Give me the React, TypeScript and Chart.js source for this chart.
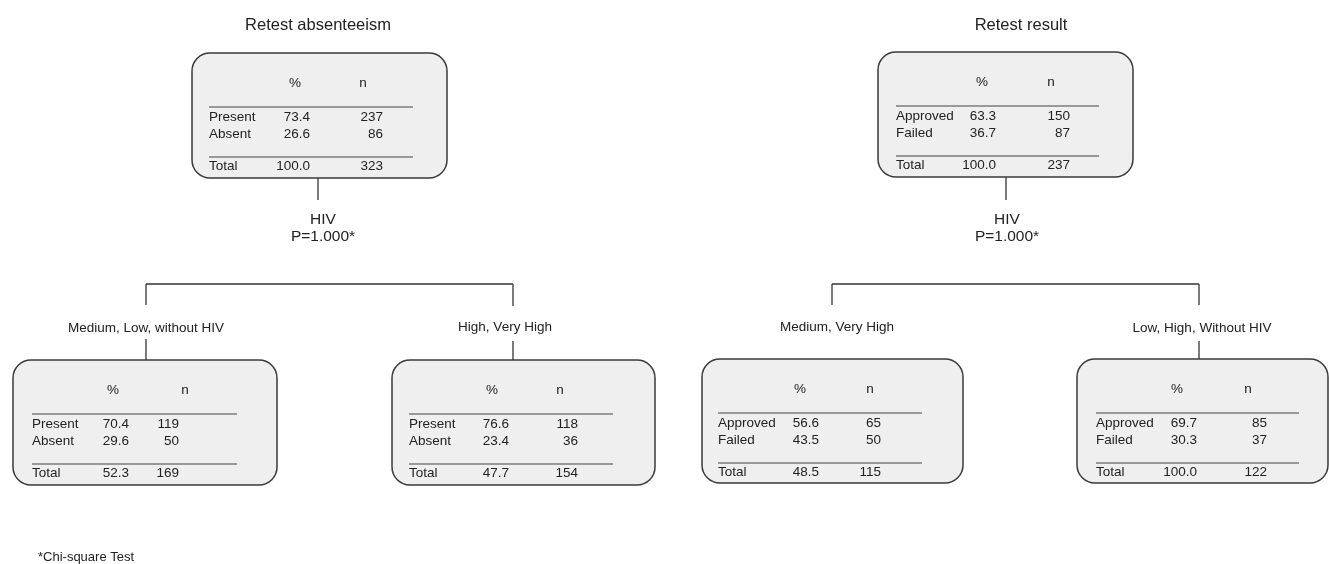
import React, { useEffect, useRef } from "react";
import { Chart, registerables } from "chart.js";

Chart.register(...registerables);

// ---------------- DATA ----------------
const treeTitles = ["Retest absenteeism", "Retest result"];
const splitVariables = ["HIV", "HIV"];
const splitPValues = ["P=1.000*", "P=1.000*"];
const footnote = "*Chi-square Test";
const columnHeaders = ["%", "n"];

const absenteeismCategories = ["Present", "Absent", "Total"];
const resultCategories = ["Approved", "Failed", "Total"];

const branchLabels = [
  "Medium, Low, without HIV",
  "High, Very High",
  "Medium, Very High",
  "Low, High, Without HIV",
];

const rootAbsenteeismPct = [73.4, 26.6, 100.0];
const rootAbsenteeismN = [237, 86, 323];
const lowAbsenteeismPct = [70.4, 29.6, 52.3];
const lowAbsenteeismN = [119, 50, 169];
const highAbsenteeismPct = [76.6, 23.4, 47.7];
const highAbsenteeismN = [118, 36, 154];

const rootResultPct = [63.3, 36.7, 100.0];
const rootResultN = [150, 87, 237];
const mediumResultPct = [56.6, 43.5, 48.5];
const mediumResultN = [65, 50, 115];
const lowResultPct = [69.7, 30.3, 100.0];
const lowResultN = [85, 37, 122];

// ---------------- LAYOUT (diagram geometry, not data) ----------------
const W = 1329;
const H = 564;

type BoxSpec = {
  x: number; y: number; w: number; h: number;
  cats: string[]; pct: number[]; n: number[];
  labelX: number; hdrPct: number; hdrN: number; pctRight: number; nRight: number; lineRight: number;
};

const boxes: BoxSpec[] = [
  { x: 192, y: 53, w: 255, h: 125, cats: absenteeismCategories, pct: rootAbsenteeismPct, n: rootAbsenteeismN,
    labelX: 17, hdrPct: 103, hdrN: 171, pctRight: 118, nRight: 191, lineRight: 221 },
  { x: 13, y: 360, w: 264, h: 125, cats: absenteeismCategories, pct: lowAbsenteeismPct, n: lowAbsenteeismN,
    labelX: 19, hdrPct: 100, hdrN: 172, pctRight: 116, nRight: 166, lineRight: 224 },
  { x: 392, y: 360, w: 263, h: 125, cats: absenteeismCategories, pct: highAbsenteeismPct, n: highAbsenteeismN,
    labelX: 17, hdrPct: 100, hdrN: 168, pctRight: 117, nRight: 186, lineRight: 221 },
  { x: 878, y: 52, w: 255, h: 125, cats: resultCategories, pct: rootResultPct, n: rootResultN,
    labelX: 18, hdrPct: 104, hdrN: 173, pctRight: 118, nRight: 192, lineRight: 221 },
  { x: 702, y: 359, w: 261, h: 124, cats: resultCategories, pct: mediumResultPct, n: mediumResultN,
    labelX: 16, hdrPct: 98, hdrN: 168, pctRight: 117, nRight: 179, lineRight: 220 },
  { x: 1077, y: 359, w: 251, h: 124, cats: resultCategories, pct: lowResultPct, n: lowResultN,
    labelX: 19, hdrPct: 100, hdrN: 171, pctRight: 120, nRight: 190, lineRight: 222 },
];

const titlePos = [ { x: 318, y: 25 }, { x: 1021, y: 25 } ];
const splitPos = [ { x: 323, y: 220 }, { x: 1007, y: 220 } ];
const branchPos = [ { x: 146, y: 328 }, { x: 505, y: 327 }, { x: 837, y: 327 }, { x: 1202, y: 328 } ];

// connector segments [x1, y1, x2, y2]
const connectors: number[][] = [
  [318, 178, 318, 200],
  [146, 284, 513, 284],
  [146, 284, 146, 305],
  [146, 339, 146, 360],
  [513, 284, 513, 306],
  [513, 341, 513, 360],
  [1006, 177, 1006, 200],
  [832, 284, 1199, 284],
  [832, 284, 832, 305],
  [1199, 284, 1199, 305],
  [1199, 341, 1199, 359],
];

const FONT = "'Liberation Sans', Arial, sans-serif";
const TEXT = "#222";

const treePlugin = {
  id: "treeDiagram",
  afterDraw(chart: any) {
    const { ctx } = chart;
    const xs = chart.scales.x;
    const ys = chart.scales.y;
    const X = (v: number) => xs.getPixelForValue(v);
    const Y = (v: number) => ys.getPixelForValue(v);
    ctx.save();

    // connectors
    ctx.strokeStyle = "#333";
    ctx.lineWidth = 1.3;
    connectors.forEach(([x1, y1, x2, y2]) => {
      ctx.beginPath();
      ctx.moveTo(X(x1), Y(y1));
      ctx.lineTo(X(x2), Y(y2));
      ctx.stroke();
    });

    // titles
    ctx.fillStyle = TEXT;
    ctx.textBaseline = "middle";
    ctx.textAlign = "center";
    ctx.font = `16.5px ${FONT}`;
    treeTitles.forEach((t, i) => ctx.fillText(t, X(titlePos[i].x), Y(titlePos[i].y)));

    // split labels
    ctx.font = `15.5px ${FONT}`;
    splitVariables.forEach((t, i) => {
      ctx.fillText(t, X(splitPos[i].x), Y(splitPos[i].y));
      ctx.fillText(splitPValues[i], X(splitPos[i].x), Y(splitPos[i].y + 17));
    });

    // branch labels
    ctx.font = `13.5px ${FONT}`;
    branchLabels.forEach((t, i) => ctx.fillText(t, X(branchPos[i].x), Y(branchPos[i].y)));

    // boxes
    boxes.forEach((b) => {
      const bx = X(b.x), by = Y(b.y);
      const bw = X(b.x + b.w) - bx, bh = Y(b.y + b.h) - by;
      ctx.beginPath();
      ctx.roundRect(bx, by, bw, bh, 18);
      ctx.fillStyle = "#efefef";
      ctx.fill();
      ctx.strokeStyle = "#3a3a3a";
      ctx.lineWidth = 1.5;
      ctx.stroke();

      // inner rules
      ctx.strokeStyle = "#444";
      ctx.lineWidth = 1.2;
      [54, 104].forEach((oy) => {
        ctx.beginPath();
        ctx.moveTo(X(b.x + b.labelX), Y(b.y + oy));
        ctx.lineTo(X(b.x + b.lineRight), Y(b.y + oy));
        ctx.stroke();
      });

      ctx.fillStyle = TEXT;
      ctx.font = `13.5px ${FONT}`;
      ctx.textAlign = "center";
      ctx.fillText(columnHeaders[0], X(b.x + b.hdrPct), Y(b.y + 30));
      ctx.fillText(columnHeaders[1], X(b.x + b.hdrN), Y(b.y + 30));

      const rowY = [64, 81, 113];
      b.cats.forEach((c, i) => {
        const yy = Y(b.y + rowY[i]);
        ctx.textAlign = "left";
        ctx.fillText(c, X(b.x + b.labelX), yy);
        ctx.textAlign = "right";
        ctx.fillText(b.pct[i].toFixed(1), X(b.x + b.pctRight), yy);
        ctx.fillText(String(b.n[i]), X(b.x + b.nRight), yy);
      });
    });

    // footnote
    ctx.textAlign = "left";
    ctx.fillStyle = TEXT;
    ctx.font = `13px ${FONT}`;
    ctx.fillText(footnote, X(38), Y(557));

    ctx.restore();
  },
};

export default function App() {
  const ref = useRef<HTMLCanvasElement | null>(null);
  useEffect(() => {
    if (!ref.current) return;
    const chart = new Chart(ref.current, {
      type: "scatter",
      data: { datasets: [{ data: [], pointRadius: 0 }] },
      options: {
        animation: false,
        responsive: false,
        devicePixelRatio: 1,
        layout: { padding: 0 },
        plugins: { legend: { display: false }, tooltip: { enabled: false } },
        scales: {
          x: { type: "linear", min: 0, max: W, display: false },
          y: { type: "linear", min: 0, max: H, reverse: true, display: false },
        },
      },
      plugins: [treePlugin],
    });
    return () => chart.destroy();
  }, []);
  return (
    <canvas
      ref={ref}
      width={W}
      height={H}
      style={{ position: "fixed", left: 0, top: 0, width: W, height: H, background: "#fff" }}
    />
  );
}
